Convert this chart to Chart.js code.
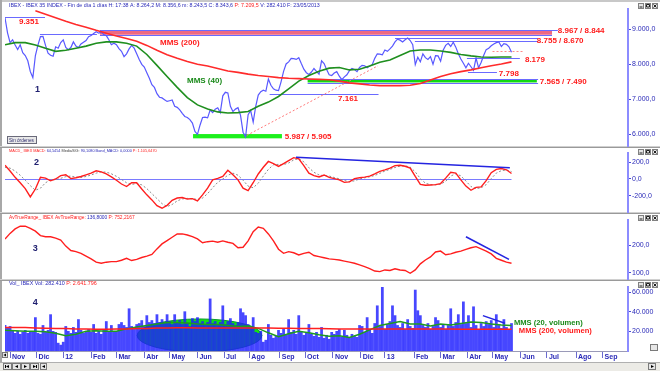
<!DOCTYPE html>
<html><head><meta charset="utf-8">
<script src="https://cdn.jsdelivr.net/npm/chart.js@4.4.1/dist/chart.umd.min.js"></script>
<style>
html,body{margin:0;padding:0;background:#fff;overflow:hidden}
#wrap{position:relative;width:660px;height:371px;overflow:hidden;background:#fff}
#wrap canvas{position:absolute;left:0}
</style></head><body>
<div id="wrap">
<canvas id="bg" width="660" height="371" style="top:0"></canvas>
<canvas id="c1" width="660" height="147" style="top:0"></canvas>
<canvas id="c2" width="660" height="66" style="top:147px"></canvas>
<canvas id="c3" width="660" height="67" style="top:213px"></canvas>
<canvas id="c4" width="660" height="83" style="top:280px"></canvas>
</div>
<script>
// ---------------- DATA (x = trading-day index from 31/10/2011) ----------------
const PRICE_STEP = 2, MA_STEP = 8, OSC_STEP = 4, VOL_STEP = 2;
const X_MAX = 492;

const priceClose = [
 9330,8900,8620,8700,8550,8420,8560,8330,8250,8100,
 7790,7620,8250,8550,8790,8800,8540,8320,8260,8230,
 8500,8460,8620,8700,8480,8420,8480,8640,8520,8480,
 8580,8630,8680,8790,8820,8880,8930,8890,8920,8850,
 8820,8700,8560,8600,8560,8450,8370,8220,8300,8440,
 8540,8460,8300,8140,8000,7920,7760,7600,7420,7340,
 7160,7060,7040,6990,6940,6960,6980,6800,6770,6700,
 6600,6510,6480,6420,6320,6080,6000,6260,6480,6490,
 6470,6690,6620,6720,6760,6620,7100,7200,7180,6800,
 6650,6720,6760,6540,6060,5930,6560,6680,6350,6800,
 7120,7220,7260,7230,7580,7400,7300,7260,7250,7500,
 7800,8010,8070,8170,8160,8140,8190,8020,7860,7760,
 7710,7780,7880,7800,7720,8100,8020,7850,7700,7680,
 7750,7790,7660,7560,7640,7700,7820,7880,7850,7790,
 7910,7970,7960,7900,7950,7990,8170,8300,8290,8270,
 8410,8370,8440,8520,8640,8720,8690,8640,8700,8750,
 8680,8560,7990,8200,8070,8300,8190,8140,8220,8000,
 8250,8240,8090,8400,8540,8600,8510,8630,8490,8300,
 8150,8030,7900,8030,7930,7830,8180,7900,8050,8250,
 8420,8460,8530,8580,8620,8640,8510,8590,8570,8500,
 8344];

const mms40 = [8560,8620,8620,8550,8460,8370,8400,8460,8520,8600,
 8640,8640,8600,8520,8280,7970,7650,7340,7050,6840,
 6720,6640,6610,6620,6650,6800,6920,7080,7300,7520,
 7680,7800,7890,7910,7840,7860,7950,8060,8120,8250,
 8380,8410,8410,8380,8340,8280,8240,8210,8200,8210,8210];

const mms200 = [null,null,null,9530,9430,9330,9230,9140,9060,8970,
 8890,8810,8740,8660,8540,8400,8270,8170,8080,8000,
 7950,7880,7810,7770,7720,7680,7650,7620,7600,7590,
 7580,7570,7560,7520,7470,7440,7410,7390,7390,7390,
 7400,7450,7550,7650,7730,7790,7840,7900,7960,8010,8070];

const macd = [165,95,20,-45,-115,-215,-120,20,10,-22,
 0,40,50,5,15,30,50,70,98,85,
 60,25,-15,-60,-90,-45,-45,-120,-190,-250,
 -320,-350,-315,-255,-228,-222,-240,-235,-262,-190,
 -110,-10,8,30,105,50,-10,-110,-140,-45,
 60,140,210,185,150,185,220,255,240,160,
 70,40,25,48,20,5,-10,-40,-35,5,
 15,22,35,60,92,110,130,160,165,152,
 130,30,-65,-75,-72,-68,-55,10,80,70,
 -10,-85,-135,-100,-95,-20,75,115,125,110,
 65];

const macdSignal = [140,130,95,45,-15,-80,-135,-110,-45,-10,
 -8,8,28,35,22,18,30,48,70,85,
 82,62,32,-5,-45,-65,-55,-70,-115,-175,
 -235,-295,-330,-305,-262,-238,-232,-236,-245,-228,
 -175,-105,-40,0,45,70,45,-15,-85,-105,
 -50,35,115,170,175,172,192,228,242,205,
 135,80,48,40,35,18,2,-18,-32,-22,
 0,14,26,42,68,95,115,138,155,158,
 142,85,5,-50,-68,-70,-62,-28,35,62,
 38,-25,-90,-115,-105,-68,5,70,100,108,
 90];

const atr = [222,242,258,268,268,260,250,234,230,230,
 225,218,196,180,176,170,160,150,138,134,
 138,140,140,145,152,144,148,155,160,166,
 186,204,216,228,240,240,236,230,222,208,
 212,214,210,215,210,206,190,192,215,248,
 265,260,240,215,185,170,176,172,164,170,
 174,162,158,154,150,148,146,142,138,134,
 128,122,115,106,104,110,108,114,110,108,
 98,110,132,146,157,175,178,165,168,174,
 178,184,190,194,186,178,168,152,145,138,
 134];

// volume in thousands of shares
const volume = [26,24,25,21,18,20,17,19,21,18,
 20,19,34,18,17,26,19,21,37,20,
 19,8,6,9,25,20,18,24,19,32,
 21,18,20,22,19,27,18,20,17,21,
 30,20,26,19,20,27,29,26,24,43,
 25,22,27,28,31,25,36,29,31,28,
 37,29,32,28,37,30,27,37,29,31,
 27,40,28,25,33,30,34,28,30,27,
 29,53,28,30,26,29,46,27,30,33,
 28,26,29,43,39,36,27,25,34,19,
 18,20,9,11,27,16,13,15,21,18,
 22,16,32,19,21,17,36,19,16,18,
 27,17,15,19,14,24,13,16,12,19,
 17,20,22,14,21,16,13,17,15,14,
 26,25,19,34,22,18,28,46,25,65,
 22,27,30,46,36,26,24,28,22,32,
 25,23,62,41,36,26,24,28,22,25,
 34,31,24,27,22,26,43,25,29,37,
 27,50,28,36,24,45,26,22,28,25,
 30,27,31,24,37,26,23,32,24,21,
 28];

const volMms20 = [21,20.5,20,20,19.5,18,15.5,17,20,20.5,
 20,20,22.5,24.5,26,27.5,29,29,28.5,27.5,
 27,27,26,25,25.5,23,18.5,14.5,17.5,20,
 18.5,16.5,15,15.5,13.8,17,21.5,26,28,30,
 27.5,27.5,25.5,27.5,26.5,28,29.5,29,27.5,26.5,26];

const volMms200 = [24,24,23.8,23.5,23.2,23,22.8,22.5,22.3,22.2,
 22.2,22.3,22.5,22.8,23,23.3,23.5,23.6,23.6,23.5,
 23.5,23.4,23.4,23.5,23.5,23.4,23.3,23.2,23.1,23,
 22.9,22.8,22.6,22.5,22.4,22.3,22.3,22.3,22.4,22.4,
 22.4,22.5,22.4,22.3,22.3,22.2,22.2,22.2,22.2,22.1,22.1];

const monthTickDays   = [4,25,46,68,88,110,130,152,173,193,217,237,259,281,300,323,344,365,385,407,428,451,472];
const monthTickLabels = ['Nov','Dic','12','Feb','Mar','Abr','May','Jun','Jul','Ago','Sep','Oct','Nov','Dic','13','Feb','Mar','Abr','May','Jun','Jul','Ago','Sep'];
const priceTicks = [6000,7000,8000,9000];
const macdTicks = [-200,0,200];
const atrTicks = [100,200];
const volTicks = [20000,40000,60000];

// drawn reference levels: [fromDay, toDay, value]
const priceLevelLines = [[0,31.6,9351],[27.6,72.6,8871],[308,421,8755],[323.7,421,8670],[364.8,406.6,8179],[365.6,388.5,7770],[209,295,7157]];
const resistanceBand = [75,432,8844,8967];
const supportBand = [239,420,7490,7565];
const lowBand = [148.5,218.7,5905,5987];
const priceTrend = [191,5971,294.5,7957];
const dottedLevel = [385,409,8394];
const priceLabels = [['9.351',11,9217],['8.967 / 8.844',436.6,8960],['8.755 / 8.670',420,8674],['8.179',410.6,8143],['7.798',390,7723],['7.565 / 7.490',422.4,7514],['7.161',263,7009],['5.987 / 5.905',221,5931],['MMS (200)',122.4,8623]];
const macdTrend = [229.8,260,398.7,135];
const atrTrend = [364,230,398,148];
const volTrend = [377.4,35900,394.8,28200];
const volHighlight = [153.6,15800,49.3,16800]; // centre day, centre vol, half-width days, half-height vol

// ---------------- helpers ----------------
const FONT = "'Liberation Sans', Arial, sans-serif";
Chart.defaults.font.family = FONT;
Chart.defaults.animation = false;
const BLUE_TXT = '#2a2ab8', RED = '#ff1a1a', LBLUE = '#6a6aff';

const series = (arr, step, mult=1) => arr.map((v,i)=>({x:i*step, y: v==null?null:v*mult})).filter(p=>p.y!==null);
function fmtNum(v, dec){ const neg=v<0; const s=Math.abs(v).toFixed(dec).split('.'); const ip=s[0].replace(/\B(?=(\d{3})+(?!\d))/g,'.'); return (neg?'-':'')+ip+(s[1]!==undefined?','+s[1]:''); }
const px=(c,d)=>c.scales.x.getPixelForValue(d);
const py=(c,v)=>c.scales.y.getPixelForValue(v);
function hl(c,d0,d1,v,col,w,dash){const ctx=c.ctx;ctx.save();ctx.strokeStyle=col;ctx.lineWidth=w||1;ctx.setLineDash(dash||[]);const y=Math.round(py(c,v))+0.5;ctx.beginPath();ctx.moveTo(px(c,d0),y);ctx.lineTo(px(c,d1),y);ctx.stroke();ctx.restore();}
function seg(c,d0,v0,d1,v1,col,w,dash){const ctx=c.ctx;ctx.save();ctx.strokeStyle=col;ctx.lineWidth=w||1;ctx.setLineDash(dash||[]);ctx.beginPath();ctx.moveTo(px(c,d0),py(c,v0));ctx.lineTo(px(c,d1),py(c,v1));ctx.stroke();ctx.restore();}
function band(c,d0,d1,v0,v1,col,grow){const ctx=c.ctx;const g=grow||0;const y0=py(c,v1)-g,y1=py(c,v0)+g;ctx.fillStyle=col;ctx.fillRect(px(c,d0),y0,px(c,d1)-px(c,d0),y1-y0);}
function txt(c,s,d,v,col,font){const ctx=c.ctx;ctx.save();ctx.font=font;ctx.fillStyle=col;ctx.textBaseline='middle';ctx.textAlign='left';ctx.fillText(s,px(c,d),py(c,v));ctx.restore();}
function runs(ctx, parts, x, y, targetW){
  ctx.save(); ctx.font='10px '+FONT; const full=parts.map(p=>p[0]).join(''); const w=ctx.measureText(full).width;
  const size=10*targetW/w; ctx.font=size.toFixed(2)+'px '+FONT; ctx.textBaseline='middle'; ctx.textAlign='left';
  let cx=x; for(const [t,col] of parts){ctx.fillStyle=col;ctx.fillText(t,cx,y);cx+=ctx.measureText(t).width;} ctx.restore();
}
function icons(ctx,y){
  ctx.save();
  [638,645,652].forEach((x,i)=>{ctx.fillStyle='#e4e4e4';ctx.fillRect(x,y,5,5);ctx.strokeStyle='#808080';ctx.lineWidth=1;ctx.strokeRect(x+0.5,y+0.5,5,5);
    ctx.strokeStyle='#202020';ctx.beginPath();
    if(i===0){ctx.moveTo(x+1.5,y+4);ctx.lineTo(x+4.5,y+4);}
    else if(i===1){ctx.rect(x+1.5,y+1.5,3,2.5);}
    else {ctx.moveTo(x+1.5,y+1.5);ctx.lineTo(x+4.5,y+4.5);ctx.moveTo(x+4.5,y+1.5);ctx.lineTo(x+1.5,y+4.5);}
    ctx.stroke();});
  ctx.restore();
}

const DECO = {};
Chart.register({
  id:'deco',
  beforeDatasetsDraw(c){ const d=DECO[c.canvas.id]; if(d&&d.before){const ctx=c.ctx,ca=c.chartArea;ctx.save();ctx.beginPath();ctx.rect(ca.left,ca.top,ca.right-ca.left,ca.bottom-ca.top);ctx.clip();d.before(c);ctx.restore();} },
  afterDatasetsDraw(c){ const d=DECO[c.canvas.id]; if(d&&d.after){c.ctx.save();d.after(c);c.ctx.restore();} },
  afterDraw(c){ const d=DECO[c.canvas.id]; if(d&&d.chrome){c.ctx.save();d.chrome(c);c.ctx.restore();} }
});

function yAxis(min,max,ticks,dec){
  return {type:'linear',position:'right',min,max,
    afterBuildTicks:s=>{s.ticks=ticks.map(v=>({value:v}));},
    afterFit:s=>{s.width=32;s.paddingTop=0;s.paddingBottom=0;},
    border:{display:true,color:'#8c8cff',width:2},
    grid:{drawOnChartArea:false,drawTicks:true,tickLength:3,color:'#4a4ad8',tickWidth:1},
    ticks:{color:BLUE_TXT,font:{size:7},padding:1,callback:v=>fmtNum(v,dec)}};
}
const hiddenX = {type:'linear',min:0,max:X_MAX,display:false,offset:false};
function opts(ymin,ymax,yt,dec,padTop,padBottom,xAxis){
  return {responsive:false,animation:false,events:[],
    layout:{padding:{left:5,right:0,top:padTop,bottom:padBottom}},
    elements:{point:{radius:0},line:{tension:0}},
    plugins:{legend:{display:false},tooltip:{enabled:false}},
    scales:{x:xAxis||hiddenX,y:yAxis(ymin,ymax,yt,dec)}};
}
const line = (data,color,w,extra)=>Object.assign({type:'line',data,borderColor:color,borderWidth:w,pointRadius:0,fill:false},extra||{});

// ---------------- background chrome ----------------
(function(){
  const ctx=document.getElementById('bg').getContext('2d');
  ctx.fillStyle='#fff';ctx.fillRect(0,0,660,371);
  ctx.fillStyle='#c8c8c8';ctx.fillRect(0,0,660,2);
  ctx.fillStyle='#a8a8a8';ctx.fillRect(0,0,2,363);
  [146,212,279].forEach(y=>{ctx.fillStyle='#d0d0d0';ctx.fillRect(0,y,660,2);ctx.fillStyle='#9a9a9a';ctx.fillRect(0,y+1,660,1);});
  ctx.fillStyle='#ecebe6';ctx.fillRect(0,362,660,9);
  ctx.fillStyle='#b0b0b0';ctx.fillRect(0,362,660,1);
  const btn=(x,y,w,h)=>{ctx.fillStyle='#e6e6e6';ctx.fillRect(x,y,w,h);ctx.strokeStyle='#7a7a7a';ctx.lineWidth=1;ctx.strokeRect(x+0.5,y+0.5,w-1,h-1);};
  [3,12,21,30].forEach((x,i)=>{btn(x,363,9,7);ctx.fillStyle='#000';ctx.beginPath();
     if(i<2){ctx.moveTo(x+6,365);ctx.lineTo(x+3,366.5);ctx.lineTo(x+6,368);} else {ctx.moveTo(x+3,365);ctx.lineTo(x+6,366.5);ctx.lineTo(x+3,368);}
     ctx.fill(); if(i===0){ctx.fillRect(x+2,365,1,3);} if(i===3){ctx.fillRect(x+6,365,1,3);} });
  btn(40,363,7,7);ctx.fillStyle='#000';ctx.beginPath();ctx.moveTo(45,365);ctx.lineTo(42,366.5);ctx.lineTo(45,368);ctx.fill();
  btn(648,363,8,7);ctx.beginPath();ctx.fillStyle='#000';ctx.moveTo(651,365);ctx.lineTo(654,366.5);ctx.lineTo(651,368);ctx.fill();
  btn(2,352,6,6);ctx.fillStyle='#000';ctx.beginPath();ctx.moveTo(6,353.5);ctx.lineTo(3.5,355);ctx.lineTo(6,356.5);ctx.fill();
  btn(650,344,8,7);
})();

// ---------------- panel 1: price ----------------
DECO.c1 = {
  before(c){
    band(c,resistanceBand[0],resistanceBand[1],resistanceBand[2],resistanceBand[3],'rgba(236,92,120,0.92)');
    hl(c,resistanceBand[0],resistanceBand[1]+4.6,resistanceBand[3],LBLUE,1);
    hl(c,resistanceBand[0],resistanceBand[1],resistanceBand[2],LBLUE,1);
    priceLevelLines.forEach(l=>hl(c,l[0],l[1],l[2],LBLUE,1));
    hl(c,dottedLevel[0],dottedLevel[1],dottedLevel[2],'#ff8a8a',1,[2,2]);
    band(c,supportBand[0],supportBand[1],supportBand[2],supportBand[3],'#12d812',0.3);
    hl(c,supportBand[0],supportBand[1]+1,supportBand[3]+12,LBLUE,1);
    hl(c,supportBand[0],supportBand[1]+1,supportBand[2]-10,LBLUE,1);
    band(c,lowBand[0],lowBand[1],lowBand[2],lowBand[3],'#1cf01c',0.7);
    seg(c,priceTrend[0],priceTrend[1],priceTrend[2],priceTrend[3],'#ff7a7a',1,[2,2]);
  },
  after(c){
    const f='bold 8px '+FONT;
    priceLabels.forEach(l=>txt(c,l[0],l[1],l[2],RED,f));
    txt(c,'MMS (40)',143.7,7523,'#1a8a1a',f);
    txt(c,'1',23.7,7266,'#202070','bold 9px '+FONT);
  },
  chrome(c){
    const ctx=c.ctx;
    runs(ctx,[['IBEX - IBEX 35 INDEX - Fin de día 1 días H: 17:38 A: 8.264,2 M: 8.356,6 m: 8.243,5 C: 8.343,6 ',BLUE_TXT],['P: 7.209,5',RED],[' V: 282.410 F: 23/05/2013',BLUE_TXT]],9,6,311);
    icons(ctx,3);
    ctx.fillStyle='#e8e8e8';ctx.fillRect(7,136,30,8);ctx.strokeStyle='#6a6a7a';ctx.lineWidth=1;ctx.strokeRect(7.5,136.5,29,7);
    runs(ctx,[['Sin órdenes','#303070']],9,140.5,25);
  }
};
new Chart(document.getElementById('c1'),{
  type:'line',
  data:{datasets:[
    line(series(mms200,MA_STEP),'#ff2b2b',1.6,{order:0}),
    line(series(mms40,MA_STEP),'#1f8f1f',1.6,{order:0}),
    line(series(priceClose,PRICE_STEP),'#5858ff',1.2,{order:1})
  ]},
  options:opts(5666,9580,priceTicks,1,9,1)
});

// ---------------- panel 2: MACD ----------------
DECO.c2 = {
  before(c){ hl(c,0,400,0,'#7a7aff',1); },
  after(c){
    seg(c,macdTrend[0],macdTrend[1],macdTrend[2],macdTrend[3],'#2424e0',1.6);
    txt(c,'2',22.9,192,'#202070','bold 9px '+FONT);
  },
  chrome(c){
    runs(c.ctx,[['MACD_ IBEX MACD: ',RED],['64,5454',BLUE_TXT],[' MediaSIG: ','#404040'],['90,1080',BLUE_TXT],[' Band_MACD: ',BLUE_TXT],['0,0000',BLUE_TXT],[' P: 1.105,6470',RED]],9,4,148);
    icons(c.ctx,2);
  }
};
new Chart(document.getElementById('c2'),{
  type:'line',
  data:{datasets:[
    line(series(macd,OSC_STEP),'#ff1e1e',1.4,{order:0}),
    line(series(macdSignal,OSC_STEP),'#8a8a8a',1,{order:1,borderDash:[2,2]})
  ]},
  options:opts(-395,311,macdTicks,1,6,1)
});

// ---------------- panel 3: ATR ----------------
DECO.c3 = {
  after(c){
    seg(c,atrTrend[0],atrTrend[1],atrTrend[2],atrTrend[3],'#2424e0',1.6);
    txt(c,'3',22,185.6,'#202070','bold 9px '+FONT);
  },
  chrome(c){
    runs(c.ctx,[['AvTrueRange_ IBEX AvTrueRange: ',RED],['136,8000',BLUE_TXT],[' P: 752,2167',RED]],9,5,126);
    icons(c.ctx,2);
  }
};
new Chart(document.getElementById('c3'),{
  type:'line',
  data:{datasets:[ line(series(atr,OSC_STEP),'#ff1e1e',1.4) ]},
  options:opts(77.3,290.3,atrTicks,1,7,1)
});

// ---------------- panel 4: volume ----------------
DECO.c4 = {
  before(c){
    const ctx=c.ctx; const [d,v,rd,rv]=volHighlight;
    const cx=px(c,d), cy=py(c,v), rx=px(c,d+rd)-cx, ry=cy-py(c,v+rv);
    ctx.fillStyle='#14e014'; ctx.beginPath(); ctx.ellipse(cx,cy,rx,ry,0,0,Math.PI*2); ctx.fill();
    ctx.strokeStyle='#0a9a2a'; ctx.lineWidth=1; ctx.stroke();
  },
  after(c){
    seg(c,volTrend[0],volTrend[1],volTrend[2],volTrend[3],'#2424e0',1.4);
    txt(c,'MMS (20, volumen)',401.9,28500,'#1a8a1a','bold 7.6px '+FONT);
    txt(c,'MMS (200, volumen)',405.8,20300,RED,'bold 7.6px '+FONT);
    txt(c,'4',22,49800,'#202070','bold 9px '+FONT);
  },
  chrome(c){
    runs(c.ctx,[['Vol_ IBEX Vol: ',BLUE_TXT],['282.410',BLUE_TXT],[' P: 2.641.796',RED]],9,3.5,88);
    icons(c.ctx,2);
  }
};
const xAxis4 = {type:'linear',min:0,max:X_MAX,offset:false,position:'bottom',
  afterBuildTicks:s=>{s.ticks=monthTickDays.map(v=>({value:v}));},
  afterFit:s=>{s.height=12;s.paddingLeft=0;s.paddingRight=0;},
  grid:{drawOnChartArea:false,offset:false,drawTicks:true,tickLength:7,color:'#6a6ad0',tickWidth:1},
  border:{display:true,color:'#9a9ab8',width:1},
  ticks:{autoSkip:false,maxRotation:0,minRotation:0,align:'start',padding:-5,color:BLUE_TXT,font:{size:7,weight:'bold'},callback:(v,i)=>' '+monthTickLabels[i]}
};
new Chart(document.getElementById('c4'),{
  type:'line',
  data:{datasets:[
    line(series(volMms200,MA_STEP,1000),'#ff2020',1.5,{order:0}),
    line(series(volMms20,MA_STEP,1000),'#1f9a1f',1.5,{order:0}),
    {type:'bar',data:series(volume,VOL_STEP,1000),backgroundColor:'rgba(30,30,255,0.82)',borderWidth:0,barThickness:2.1,grouped:false,order:2}
  ]},
  options:opts(0,65100,volTicks,0,7,0,xAxis4)
});
</script>
</body></html>
